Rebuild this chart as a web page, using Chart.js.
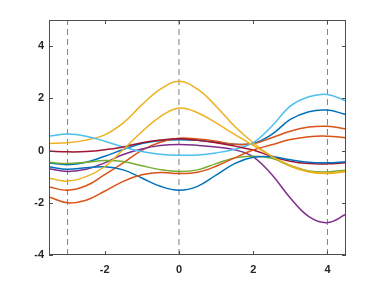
<!DOCTYPE html>
<html>
<head>
<meta charset="utf-8">
<script src="https://cdn.jsdelivr.net/npm/chart.js@4/dist/chart.umd.min.js"></script>
<style>
  html, body { margin: 0; padding: 0; background: #fff; }
  #wrap { width: 382px; height: 286px; }
</style>
</head>
<body>
<div id="wrap"><canvas id="chart"></canvas></div>
<script>
// sample positions along x
const xs = [-3.5, -3, -2.5, -2, -1.5, -1, -0.5, 0, 0.5, 1, 1.5, 2, 2.5, 3, 3.5, 4, 4.5];

// curve values (MATLAB colour order)
const blueA    = [-0.48, -0.54, -0.45, -0.22, 0.04, 0.27, 0.38, 0.41, 0.39, 0.32, 0.24, 0.27, 0.62, 1.19, 1.49, 1.55, 1.38];
const orangeA  = [-1.40, -1.52, -1.35, -0.92, -0.47, 0.01, 0.32, 0.47, 0.44, 0.36, 0.24, 0.26, 0.49, 0.74, 0.90, 0.93, 0.83];
const yellowA  = [0.27, 0.30, 0.40, 0.60, 1.06, 1.75, 2.35, 2.65, 2.35, 1.70, 0.93, 0.30, -0.22, -0.60, -0.82, -0.88, -0.80];
const purple   = [-0.70, -0.80, -0.72, -0.47, -0.15, 0.06, 0.19, 0.23, 0.20, 0.14, 0.03, -0.24, -0.92, -1.82, -2.53, -2.76, -2.44];
const green    = [-0.45, -0.50, -0.45, -0.38, -0.42, -0.58, -0.73, -0.80, -0.74, -0.50, -0.28, -0.22, -0.30, -0.57, -0.78, -0.82, -0.74];
const lightBlue = [0.55, 0.63, 0.55, 0.36, 0.14, -0.04, -0.14, -0.18, -0.17, -0.09, 0.05, 0.30, 0.93, 1.70, 2.06, 2.15, 1.90];
const darkRed  = [-0.02, -0.05, -0.04, 0.03, 0.14, 0.30, 0.40, 0.45, 0.39, 0.30, 0.17, 0.02, -0.22, -0.41, -0.50, -0.51, -0.47];
const blueB    = [-0.62, -0.72, -0.66, -0.62, -0.74, -1.05, -1.37, -1.52, -1.37, -0.94, -0.50, -0.26, -0.24, -0.35, -0.45, -0.47, -0.43];
const orangeB  = [-1.78, -2.00, -1.90, -1.56, -1.18, -0.93, -0.84, -0.88, -0.83, -0.60, -0.28, 0.02, 0.22, 0.42, 0.53, 0.55, 0.49];
const yellowB  = [-1.06, -1.17, -1.00, -0.62, 0.04, 0.72, 1.30, 1.63, 1.45, 1.06, 0.62, 0.20, -0.22, -0.57, -0.80, -0.86, -0.78];

const curves = [blueA, orangeA, yellowA, purple, green, lightBlue, darkRed, blueB, orangeB, yellowB];
const colors = ["#0072BD", "#D95319", "#EDB120", "#7E2F8E", "#77AC30", "#4DBEEE", "#A2142F", "#0072BD", "#D95319", "#EDB120"];

// vertical reference lines
const markerXs = [-3, 0, 4];

const xTicks = [-2, 0, 2, 4];
const yTicks = [-4, -2, 0, 2, 4];

const datasets = [];
curves.forEach((vals, i) => {
  datasets.push({
    data: xs.map((x, j) => ({ x: x, y: vals[j] })),
    borderColor: colors[i],
    borderWidth: 1.5,
    pointRadius: 0,
    tension: 0.4,
    order: curves.length - i,
  });
});
markerXs.forEach((x) => {
  datasets.push({
    data: [{ x: x, y: -4 }, { x: x, y: 5 }],
    borderColor: "#808080",
    borderWidth: 1,
    borderDash: [6, 4],
    pointRadius: 0,
    order: 50,
  });
});

// draw the axes box with inward tick marks, MATLAB style
const boxPlugin = {
  id: "box",
  afterDatasetsDraw(chart) {
    const { ctx, chartArea: a, scales } = chart;
    ctx.save();
    ctx.strokeStyle = "#4d4d4d";
    ctx.lineWidth = 1;
    ctx.strokeRect(a.left + 0.5, a.top + 0.5, a.right - a.left - 1, a.bottom - a.top - 1);
    ctx.beginPath();
    xTicks.forEach((v) => {
      const px = Math.round(scales.x.getPixelForValue(v)) + 0.5;
      ctx.moveTo(px, a.bottom);
      ctx.lineTo(px, a.bottom - 4);
      ctx.moveTo(px, a.top);
      ctx.lineTo(px, a.top + 4);
    });
    yTicks.forEach((v) => {
      const py = Math.round(scales.y.getPixelForValue(v)) + 0.5;
      ctx.moveTo(a.left, py);
      ctx.lineTo(a.left + 4, py);
      ctx.moveTo(a.right, py);
      ctx.lineTo(a.right - 4, py);
    });
    ctx.stroke();
    ctx.restore();
  },
};

const tickFont = { family: "'Liberation Sans', Arial, sans-serif", size: 11, weight: "bold" };

new Chart(document.getElementById("chart").getContext("2d"), {
  type: "line",
  data: { datasets: datasets },
  options: {
    responsive: true,
    maintainAspectRatio: false,
    animation: false,
    layout: { padding: { left: 0, top: 20, right: 36, bottom: 0 } },
    plugins: {
      legend: { display: false },
      tooltip: { enabled: false },
    },
    scales: {
      x: {
        type: "linear",
        min: -3.5,
        max: 4.5,
        afterBuildTicks: (scale) => {
          scale.ticks = xTicks.map((v) => ({ value: v }));
        },
        afterFit: (scale) => {
          scale.height = 31;
        },
        grid: { display: false, drawTicks: false },
        border: { display: false },
        ticks: {
          font: tickFont,
          color: "#262626",
          padding: 8,
          maxRotation: 0,
          callback: (v) => String(v),
        },
      },
      y: {
        type: "linear",
        min: -4,
        max: 5,
        afterBuildTicks: (scale) => {
          scale.ticks = yTicks.map((v) => ({ value: v }));
        },
        afterFit: (scale) => {
          scale.width = 49;
        },
        grid: { display: false, drawTicks: false },
        border: { display: false },
        ticks: {
          font: tickFont,
          color: "#262626",
          padding: 5,
          callback: (v) => String(v),
        },
      },
    },
  },
  plugins: [boxPlugin],
});
</script>
</body>
</html>
